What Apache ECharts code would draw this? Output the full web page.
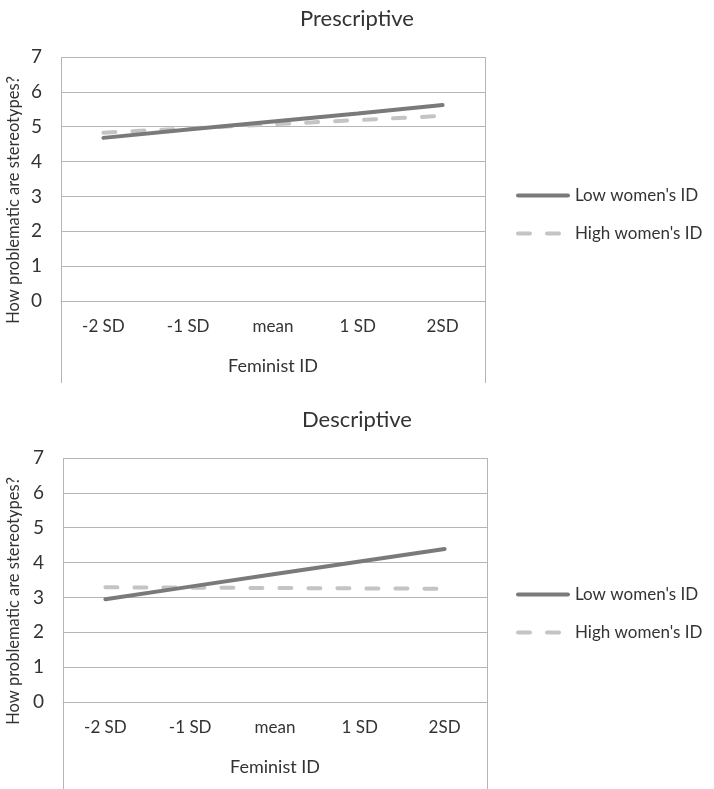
<!DOCTYPE html>
<html>
<head>
<meta charset="utf-8">
<script src="https://cdn.jsdelivr.net/npm/echarts@6/dist/echarts.min.js"></script>
<style>
html,body{margin:0;padding:0;background:#fff;}
#chart{width:714px;height:789px;}
</style>
</head>
<body>
<div id="chart"></div>
<script>
// ---- data ----
const categories = ['-2 SD', '-1 SD', 'mean', '1 SD', '2SD'];
const seriesNames = ["Low women's ID", "High women's ID"];
const titles = ['Prescriptive', 'Descriptive'];
const yTicks = [0, 1, 2, 3, 4, 5, 6, 7];
const prescriptiveLow  = [4.68, 4.92, 5.15, 5.38, 5.62];
const prescriptiveHigh = [4.83, 4.95, 5.07, 5.19, 5.31];
const descriptiveLow   = [2.95, 3.31, 3.67, 4.03, 4.39];
const descriptiveHigh  = [3.29, 3.28, 3.27, 3.26, 3.25];
const xAxisName = 'Feminist ID';
const yAxisName = 'How problematic are stereotypes?';

// ---- layout / style ----
const FONT = 'Lato, "Open Sans", sans-serif';
const TXT = '#333333';
const GRIDC = '#b5b5b5';
const DARK = '#7a7a7a';
const LIGHT = '#c4c4c4';
const panels = [
  {left: 61, right: 485, top: 57, bottom: 301, extBottom: 383, titleTop: 3, legendTop: 182},
  {left: 63, right: 487, top: 458, bottom: 702, extBottom: 789, titleTop: 404, legendTop: 581}
];

const chart = echarts.init(document.getElementById('chart'), null, {renderer: 'canvas'});

const grids = [], xAxes = [], yAxes = [], series = [], title = [], legends = [], graphic = [];
const dataSets = [[prescriptiveLow, prescriptiveHigh], [descriptiveLow, descriptiveHigh]];
const styles = [
  {color: DARK, type: 'solid'},
  {color: LIGHT, type: [12, 17]}
];

panels.forEach((p, i) => {
  grids.push({left: p.left, width: p.right - p.left, top: p.top, height: p.bottom - p.top, containLabel: false});
  title.push({
    text: titles[i], left: 'center', top: p.titleTop,
    textStyle: {fontFamily: FONT, fontSize: 22, fontWeight: 'normal', color: TXT}
  });
  xAxes.push({
    type: 'category', gridIndex: i, data: categories, boundaryGap: true,
    axisLine: {show: true, lineStyle: {color: GRIDC, width: 1}},
    axisTick: {show: false},
    axisLabel: {margin: 17, fontFamily: FONT, fontSize: 17, color: TXT},
    name: xAxisName, nameLocation: 'middle', nameGap: 56,
    nameTextStyle: {fontFamily: FONT, fontSize: 18, color: TXT}
  });
  yAxes.push({
    type: 'value', gridIndex: i, min: yTicks[0], max: yTicks[yTicks.length - 1], interval: 1,
    axisLine: {show: false}, axisTick: {show: false},
    splitLine: {show: true, lineStyle: {color: GRIDC, width: 1}},
    axisLabel: {margin: 19, fontFamily: FONT, fontSize: 19, color: TXT}
  });
  seriesNames.forEach((n, k) => {
    series.push({
      name: n, type: 'line', xAxisIndex: i, yAxisIndex: i,
      data: dataSets[i][k], symbol: 'none', smooth: false, animation: false,
      itemStyle: {color: styles[k].color},
      lineStyle: {color: styles[k].color, width: 4, type: styles[k].type, cap: 'round'},
      z: k === 0 ? 3 : 2
    });
  });
  legends.push({
    orient: 'vertical', left: 511, top: p.legendTop,
    itemWidth: 50, itemHeight: 14, itemGap: 21,
    data: seriesNames.map((n, k) => ({
      name: n,
      itemStyle: {opacity: 0},
      lineStyle: {color: styles[k].color, width: 4, type: styles[k].type, cap: 'round'}
    })),
    textStyle: {fontFamily: FONT, fontSize: 17, color: TXT, padding: [0, 0, 0, 2]},
    selectedMode: false
  });
  [p.left, p.right].forEach(x => {
    graphic.push({
      type: 'line', silent: true,
      shape: {x1: x + 0.5, y1: p.top, x2: x + 0.5, y2: p.extBottom},
      style: {stroke: GRIDC, lineWidth: 1}
    });
  });
  graphic.push({
    type: 'text', silent: true, rotation: Math.PI / 2,
    x: 14, y: (p.top + p.bottom) / 2 + 21,
    style: {text: yAxisName, fontFamily: FONT, fontSize: 16.5, fill: TXT, align: 'center', verticalAlign: 'middle'}
  });
});

chart.setOption({
  animation: false,
  backgroundColor: '#fff',
  title: title,
  legend: legends,
  grid: grids,
  xAxis: xAxes,
  yAxis: yAxes,
  series: series,
  graphic: graphic
});
</script>
</body>
</html>
